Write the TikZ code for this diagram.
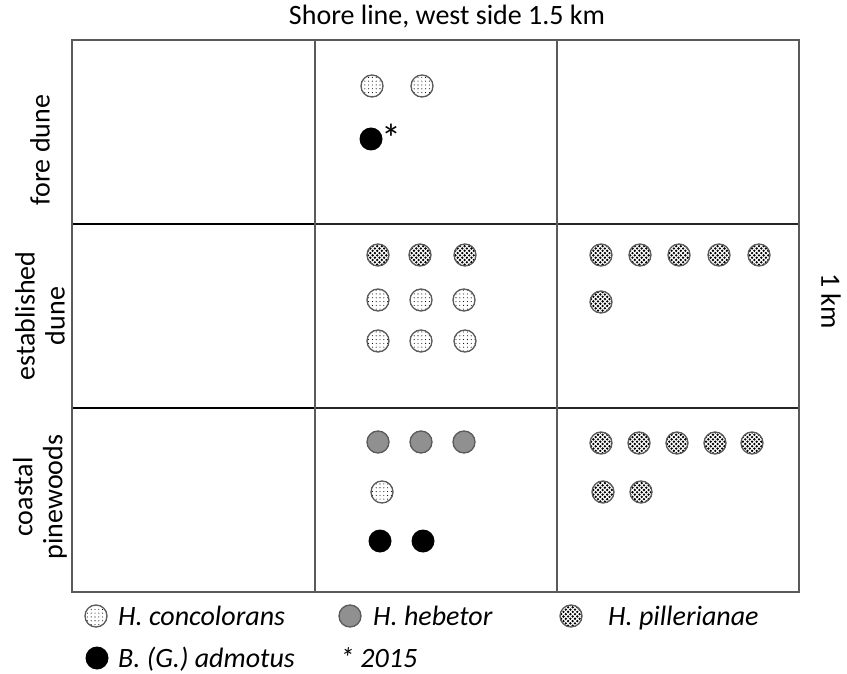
\documentclass[tikz,border=0pt]{standalone}
\usepackage{fontspec}
\setmainfont{Carlito}
\usetikzlibrary{patterns}

% sparse fine dots (H. concolorans)
\pgfdeclarepatternformonly{sparsedots}{\pgfqpoint{-1pt}{-1pt}}{\pgfqpoint{1pt}{1pt}}{\pgfqpoint{3.8pt}{3.8pt}}%
{\pgfpathcircle{\pgfqpoint{0pt}{0pt}}{0.55pt}\pgfusepath{fill}}
% dense staggered dots (H. pillerianae)
\pgfdeclarepatternformonly{densedots}{\pgfqpoint{-1.5pt}{-1.5pt}}{\pgfqpoint{6pt}{6pt}}{\pgfqpoint{4.6pt}{4.6pt}}%
{\pgfpathcircle{\pgfqpoint{0pt}{0pt}}{1.3pt}\pgfpathcircle{\pgfqpoint{2.3pt}{2.3pt}}{1.3pt}\pgfusepath{fill}}

\definecolor{framegray}{HTML}{5A5A5A}
\definecolor{hebgray}{HTML}{909090}

\tikzset{
  lbl/.style={font=\fontsize{28}{30}\selectfont, inner sep=0pt},
  leg/.style={font=\fontsize{28}{30}\selectfont\itshape, inner sep=0pt, anchor=base west},
  side/.style={lbl, rotate=90, align=center},
  conc/.style={circle, minimum size=22pt, inner sep=0pt, draw=framegray, line width=1.3pt,
    preaction={fill=white}, pattern=sparsedots},
  pill/.style={circle, minimum size=22pt, inner sep=0pt, draw=framegray, line width=1.3pt,
    preaction={fill=white}, pattern=densedots},
  heb/.style={circle, minimum size=22pt, inner sep=0pt, draw=framegray, line width=1.3pt, fill=hebgray},
  adm/.style={circle, minimum size=23pt, inner sep=0pt, fill=black},
  frameline/.style={draw=framegray, line width=1.5pt},
  rowline/.style={draw=black!85, line width=1.2pt},
  rowlinethick/.style={draw=black, line width=2.4pt},
}

\begin{document}
\begin{tikzpicture}[x=1pt, y=-1pt]
\useasboundingbox (0,0) rectangle (847,674);

% grid
\draw[rowlinethick] (72,224) -- (315,224);
\draw[rowline] (315,224) -- (799,224);
\draw[rowlinethick] (72,408) -- (315,408);
\draw[rowline] (315,408) -- (799,408);
\draw[frameline] (315,40) -- (315,592);
\draw[frameline] (557,40) -- (557,592);
\draw[frameline] (72,40) rectangle (799,592);

% headings
\node[lbl, anchor=base] (title) at (447,25) {Shore line, west side 1.5 km};
\node[lbl, rotate=-90] (width) at (831,301) {1 km};
\node[side] (fore) at (40,150) {fore dune};
\node[side] (estab) at (40,316) {established\\dune};
\node[side] (coast) at (40,497) {coastal\\pinewoods};

% fore dune
\node[conc] (f1) at (372,86) {};
\node[conc] (f2) at (422,86) {};
\node[adm] (f3) at (371,139) {};
\node[lbl, font=\fontsize{40}{40}\selectfont] (f3star) at (391,138) {*};

% established dune, middle
\foreach \x [count=\i] in {378,420,465} {
  \node[pill] (ep\i) at (\x,255) {};
}
\foreach \x [count=\i] in {378,421,464} {
  \node[conc] (ec\i) at (\x,300) {};
}
\foreach \x [count=\i] in {378,421,465} {
  \node[conc] (ed\i) at (\x,341) {};
}
% established dune, east
\foreach \x [count=\i] in {601,640,679,719,759} {
  \node[pill] (er\i) at (\x,255) {};
}
\node[pill] (er6) at (601,302) {};

% coastal pinewoods, middle
\foreach \x [count=\i] in {378,421,464} {
  \node[heb] (ch\i) at (\x,442) {};
}
\node[conc] (cc1) at (382,492) {};
\node[adm] (ca1) at (380,541) {};
\node[adm] (ca2) at (423,541) {};
% coastal pinewoods, east
\foreach \x [count=\i] in {601,639,677,715,752} {
  \node[pill] (cr\i) at (\x,443) {};
}
\node[pill] (cr6) at (603,492) {};
\node[pill] (cr7) at (641,492) {};

% legend
\node[conc] (k1) at (96,616) {};
\node[leg] (k1t) at (118,625) {H. concolorans};
\node[heb] (k2) at (350,616) {};
\node[leg] (k2t) at (373,625) {H. hebetor};
\node[pill] (k3) at (571,616) {};
\node[leg] (k3t) at (608,625) {H. pillerianae};
\node[adm] (k4) at (97,658) {};
\node[leg] (k4t) at (118,667) {B. (G.) admotus};
\node[leg] (k5t) at (340,667) {* 2015};
\end{tikzpicture}
\end{document}
